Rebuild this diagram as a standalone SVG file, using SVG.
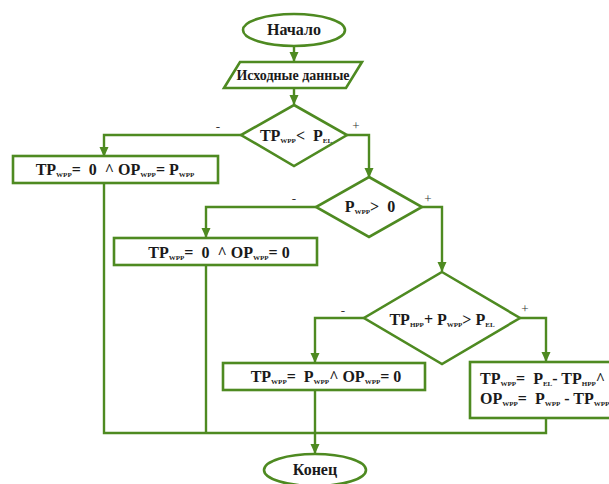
<svg xmlns="http://www.w3.org/2000/svg" width="609" height="484" viewBox="0 0 609 484">
<defs>
<marker id="arr" markerWidth="10" markerHeight="10" refX="9" refY="5" orient="auto" markerUnits="userSpaceOnUse">
<path d="M0,0.5 L10,5 L0,9.5 Z" fill="#4E8A21"/>
</marker>
<style>
.sh{fill:#fff;stroke:#4E8A21;stroke-width:2.6}
.ln{fill:none;stroke:#4E8A21;stroke-width:2.4}
.t{font-weight:bold;font-size:16px;fill:#1a1a1a;white-space:pre}
.s{font-size:7px}
.lb{font-size:13px;fill:#333}
</style>
</defs>
<rect width="609" height="484" fill="#fff"/>
<g id="connectors" font-family="'Liberation Serif', 'Times New Roman', serif">
<path class="ln" d="M294,45 V61" marker-end="url(#arr)"/>
<path class="ln" d="M294,88 V104" marker-end="url(#arr)"/>
<path class="ln" d="M241,135 H104 V156" marker-end="url(#arr)"/>
<path class="ln" d="M347,135 H369 V177" marker-end="url(#arr)"/>
<path class="ln" d="M316,207 H206 V237" marker-end="url(#arr)"/>
<path class="ln" d="M422,207 H442 V271" marker-end="url(#arr)"/>
<path class="ln" d="M364,318 H315 V362" marker-end="url(#arr)"/>
<path class="ln" d="M520,318 H546 V361" marker-end="url(#arr)"/>
<path class="ln" d="M104,183 V433 H546 V418"/>
<path class="ln" d="M206,265 V433"/>
<path class="ln" d="M315,390 V453" marker-end="url(#arr)"/>
<text class="lb" x="218" y="131" text-anchor="middle">-</text>
<text class="lb" x="356" y="130" text-anchor="middle">+</text>
<text class="lb" x="294" y="203" text-anchor="middle">-</text>
<text class="lb" x="428" y="203" text-anchor="middle">+</text>
<text class="lb" x="343" y="315" text-anchor="middle">-</text>
<text class="lb" x="525" y="313" text-anchor="middle">+</text>
</g>
<g font-family="'Liberation Serif', 'Times New Roman', serif">
<g id="start">
<ellipse class="sh" cx="294" cy="30" rx="51" ry="16"/>
<text class="t" x="294" y="35" text-anchor="middle" font-size="16">Начало</text>
</g>
<g id="input">
<polygon class="sh" points="240,62 362,62 346,88 224,88"/>
<text class="t" x="293" y="80" text-anchor="middle" style="font-size:14px">Исходные данные</text>
</g>
<g id="cond1">
<polygon class="sh" points="294,105 347,135 294,166 241,135"/>
<text class="t" x="296" y="141" text-anchor="middle">TP<tspan class="s" dy="2">WPP</tspan><tspan dy="-2">&lt;  P</tspan><tspan class="s" dy="2">EL</tspan></text>
</g>
<g id="box1">
<rect class="sh" x="13" y="156" width="205" height="27"/>
<text class="t" x="115" y="175" text-anchor="middle">TP<tspan class="s" dy="2">WPP</tspan><tspan dy="-2">=  0  ^ OP</tspan><tspan class="s" dy="2">WPP</tspan><tspan dy="-2">= P</tspan><tspan class="s" dy="2">WPP</tspan></text>
</g>
<g id="cond2">
<polygon class="sh" points="369,177 422,207 369,237 316,207"/>
<text class="t" x="370" y="212" text-anchor="middle">P<tspan class="s" dy="2">WPP</tspan><tspan dy="-2">&gt;  0</tspan></text>
</g>
<g id="box2">
<rect class="sh" x="114" y="238" width="203" height="27"/>
<text class="t" x="219" y="258" text-anchor="middle">TP<tspan class="s" dy="2">WPP</tspan><tspan dy="-2">=  0  ^ OP</tspan><tspan class="s" dy="2">WPP</tspan><tspan dy="-2">= 0</tspan></text>
</g>
<g id="cond3">
<polygon class="sh" points="442,272 520,318 442,364 364,318"/>
<text class="t" x="442" y="325" text-anchor="middle">TP<tspan class="s" dy="2">HPP</tspan><tspan dy="-2">+ P</tspan><tspan class="s" dy="2">WPP</tspan><tspan dy="-2">&gt; P</tspan><tspan class="s" dy="2">EL</tspan></text>
</g>
<g id="box3">
<rect class="sh" x="223" y="363" width="202" height="27"/>
<text class="t" x="326" y="382" text-anchor="middle">TP<tspan class="s" dy="2">WPP</tspan><tspan dy="-2">=  P</tspan><tspan class="s" dy="2">WPP</tspan><tspan dy="-2">^ OP</tspan><tspan class="s" dy="2">WPP</tspan><tspan dy="-2">= 0</tspan></text>
</g>
<g id="box4">
<rect class="sh" x="470" y="362" width="160" height="56"/>
<text class="t" x="480" y="384">TP<tspan class="s" dy="2">WPP</tspan><tspan dy="-2">=  P</tspan><tspan class="s" dy="2">EL</tspan><tspan dy="-2">- TP</tspan><tspan class="s" dy="2">HPP</tspan><tspan dy="-2">^</tspan></text>
<text class="t" x="480" y="404">OP<tspan class="s" dy="2">WPP</tspan><tspan dy="-2">=  P</tspan><tspan class="s" dy="2">WPP</tspan><tspan dy="-2"> - TP</tspan><tspan class="s" dy="2">WPP</tspan></text>
</g>
<g id="end">
<ellipse class="sh" cx="315" cy="470" rx="51" ry="16"/>
<text class="t" x="315" y="475" text-anchor="middle" font-size="16">Конец</text>
</g>
</g>
</svg>
